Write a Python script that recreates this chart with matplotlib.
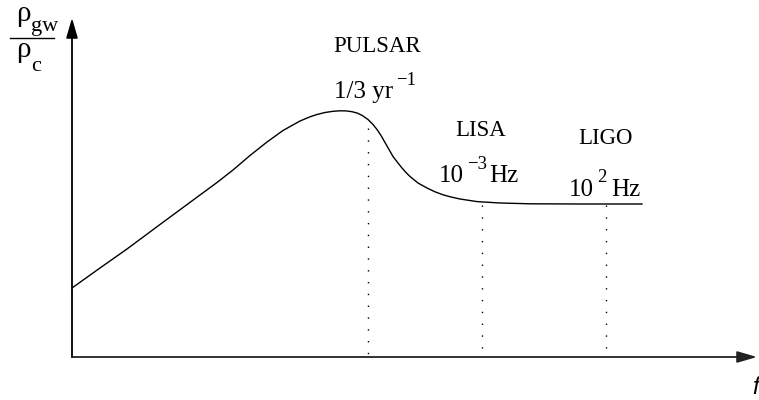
import matplotlib
matplotlib.use("Agg")
import matplotlib.pyplot as plt

# Spectrum curve (pixel frame: x right, y down)
curve_x = [72, 100, 127, 160, 200, 217, 233, 250, 267, 283, 300, 310, 317, 325,
           333, 340, 346, 352, 357, 362, 368, 373, 377, 381, 385, 389, 393, 398,
           402, 406, 410, 418, 427, 435, 443, 451, 460, 477, 500, 530, 580, 642]
curve_y = [288, 268, 249, 224.5, 195, 182.5, 170, 155.5, 142, 130.5, 121, 116.8, 114.5, 112.5,
           111.3, 110.8, 110.9, 111.7, 113, 115.3, 119.5, 124.5, 129.5, 135.5, 142.5, 149.5, 156.5, 163,
           168, 172.5, 176.5, 183, 188, 191.8, 194.8, 197, 199, 201.6, 203, 203.8, 204, 204]

# Markers for detector frequencies
marker_x = [368, 482, 606]
marker_top = [128, 205, 205]
labels_top = ["PULSAR", "LISA", "LIGO"]
# frequency labels: (main, superscript, tail)
freq_main = ["1/3 yr", "10", "10"]
freq_sup = ["\u22121", "\u22123", "2"]
freq_tail = ["", "Hz", "Hz"]

origin = (72, 357)

fig = plt.figure(figsize=(7.59, 4.0), dpi=100)
ax = fig.add_axes([0, 0, 1, 1])
ax.set_xlim(0, 759)
ax.set_ylim(400, 0)
ax.axis('off')

# axes with arrows
ax.annotate('', xy=(757, origin[1]), xytext=(origin[0], origin[1]),
            arrowprops=dict(arrowstyle='-|>,head_length=1.2,head_width=0.35',
                            color='#222222', lw=1.3, shrinkA=0, shrinkB=0))
ax.annotate('', xy=(origin[0], 18), xytext=(origin[0], origin[1]),
            arrowprops=dict(arrowstyle='-|>,head_length=1.2,head_width=0.35',
                            color='black', lw=1.3, shrinkA=0, shrinkB=0))

# curve
ax.plot(curve_x, curve_y, color='black', lw=1.0, solid_joinstyle='round')

# dotted marker lines
for mx, mt in zip(marker_x, marker_top):
    ax.plot([mx, mx], [mt, origin[1]], color='black', lw=1.0,
            linestyle=(0, (1, 7.5)))

serif = 'Liberation Serif'
top_pos = [(377, 46), (481, 130), (606, 138)]
for (tx, ty), s in zip(top_pos, labels_top):
    ax.text(tx, ty, s, family=serif, fontsize=16.5, ha='center', va='center')

# positions: main left/baseline, superscript left/baseline, tail left
main_pos = [(334, 98), (439, 182), (569, 196)]
sup_pos = [(396, 85), (467, 169), (597, 182)]
tail_x = [None, 489, 611]
for i in range(3):
    mx, my = main_pos[i]
    ax.text(mx, my, freq_main[i], family=serif, fontsize=18,
            ha='left', va='baseline')
    sx, sy = sup_pos[i]
    ax.text(sx, sy, freq_sup[i], family=serif, fontsize=13.5,
            ha='left', va='baseline')
    if freq_tail[i]:
        ax.text(tail_x[i], my, freq_tail[i], family=serif, fontsize=18,
                ha='left', va='baseline')

# y label rho_gw / rho_c
ax.text(16, 21, "ρ", family=serif, fontsize=21, ha='left', va='baseline')
ax.text(31, 31, "gw", family=serif, fontsize=16, ha='left', va='baseline')
ax.plot([10, 54], [38, 38], color='black', lw=1.0)
ax.text(16, 57, "ρ", family=serif, fontsize=21, ha='left', va='baseline')
ax.text(31, 71, "c", family=serif, fontsize=16, ha='left', va='baseline')

# frequency axis label, partly cut off at the right edge
ax.text(752, 388, "f", family='Liberation Sans', style='italic', fontsize=17,
        ha='left', va='center')

fig.savefig("out.png", dpi=100)
